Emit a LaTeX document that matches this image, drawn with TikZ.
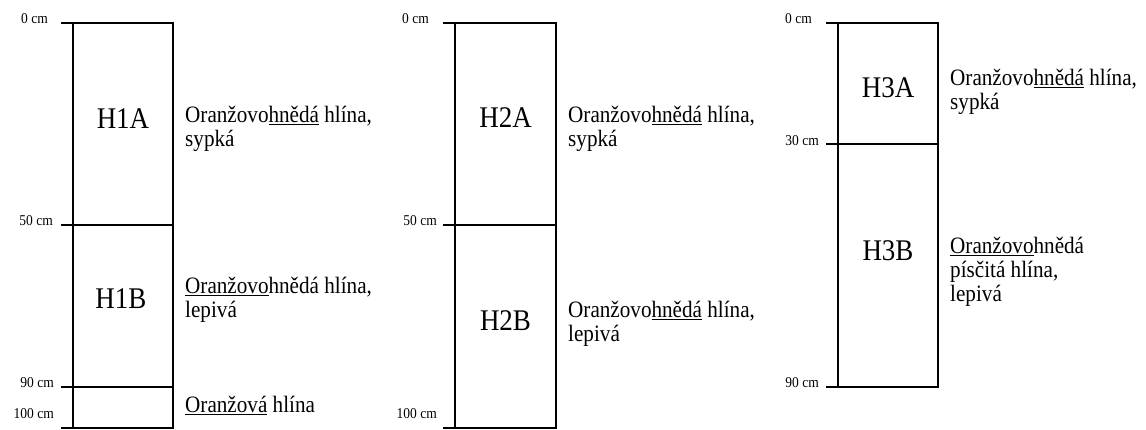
\documentclass[tikz,border=0pt]{standalone}
\usepackage{fontspec}
\setmainfont{Liberation Serif}[FakeStretch=0.9]
\newcommand\ulin[1]{\setbox0\hbox{#1}\rlap{\rule[-2.6pt]{\wd0}{1.1pt}}\box0\relax}
\tikzset{
  edge/.style={line width=2pt},
  depthlbl/.style={font=\fontsize{15}{15}\selectfont, anchor=base east, inner sep=0pt},
  horlbl/.style={font=\fontsize{30}{30}\selectfont, anchor=base, inner sep=0pt},
  desclbl/.style={font=\fontsize{23.5}{24}\selectfont, anchor=base west, align=left, inner sep=0pt},
}
\begin{document}
\begin{tikzpicture}[x=1pt,y=-1pt]
\useasboundingbox (0,0) rectangle (1146,429);
% ---------- column 1
\draw[edge] (72.5,22.5) rectangle (173,427.5);
\draw[edge] (61,22.5) -- (72.5,22.5) (61,225) -- (173,225) (61,386.5) -- (173,386.5) (61,427.5) -- (72.5,427.5);
\node[depthlbl] (c1d0) at (48,23) {0 cm};
\node[depthlbl] (c1d50) at (53,225) {50 cm};
\node[depthlbl] (c1d90) at (54,387) {90 cm};
\node[depthlbl] (c1d100) at (54,418) {100 cm};
\node[horlbl] (h1a) at (123,128) {H1A};
\node[horlbl] (h1b) at (121,308) {H1B};
% multi-line nodes: base anchor is the baseline of the last line
\node[desclbl] (t1a) at (185,146) {Oranžovo\ulin{hnědá} hlína,\\sypká};
\node[desclbl] (t1b) at (185,317) {\ulin{Oranžovo}hnědá hlína,\\lepivá};
\node[desclbl] (t1c) at (185,412) {\ulin{Oranžová} hlína};
% ---------- column 2
\draw[edge] (455,22.5) rectangle (556,427.5);
\draw[edge] (443,22.5) -- (455,22.5) (443,225) -- (556,225) (443,427.5) -- (455,427.5);
\node[depthlbl] (c2d0) at (429,23) {0 cm};
\node[depthlbl] (c2d50) at (437,225) {50 cm};
\node[depthlbl] (c2d100) at (437,418) {100 cm};
\node[horlbl] (h2a) at (505.5,127) {H2A};
\node[horlbl] (h2b) at (505.5,330) {H2B};
\node[desclbl] (t2a) at (568,146) {Oranžovo\ulin{hnědá} hlína,\\sypká};
\node[desclbl] (t2b) at (568,341) {Oranžovo\ulin{hnědá} hlína,\\lepivá};
% ---------- column 3
\draw[edge] (838,22.5) rectangle (938,386.5);
\draw[edge] (826,22.5) -- (838,22.5) (826,144) -- (938,144) (826,386.5) -- (838,386.5);
\node[depthlbl] (c3d0) at (812,23) {0 cm};
\node[depthlbl] (c3d30) at (819,145) {30 cm};
\node[depthlbl] (c3d90) at (819,387) {90 cm};
\node[horlbl] (h3a) at (888,97) {H3A};
\node[horlbl] (h3b) at (888,260) {H3B};
\node[desclbl] (t3a) at (950,109) {Oranžovo\ulin{hnědá} hlína,\\sypká};
\node[desclbl] (t3b) at (950,301) {\ulin{Oranžovo}hnědá\\písčitá hlína,\\lepivá};
\end{tikzpicture}
\end{document}
